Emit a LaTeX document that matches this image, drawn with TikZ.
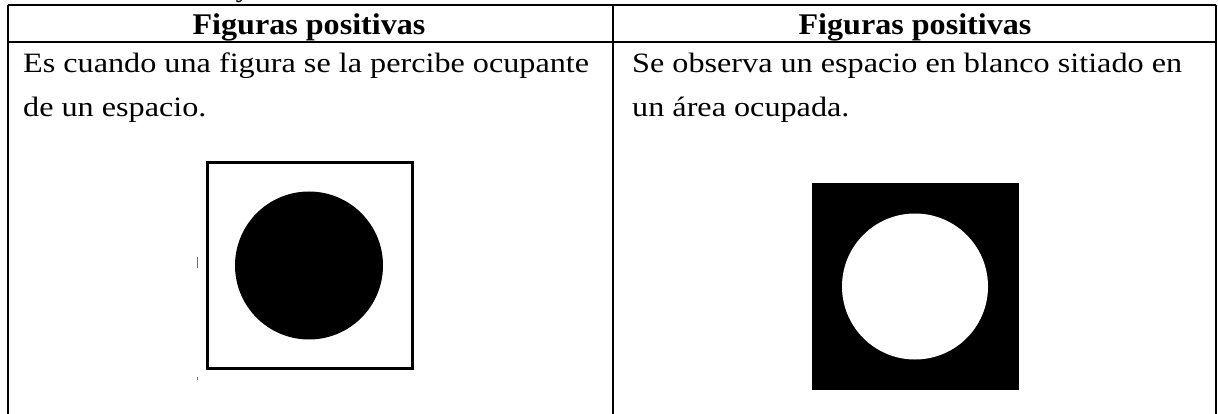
\documentclass[tikz,border=0pt]{standalone}
\usepackage{graphicx}
\usepackage{fontspec}
\setmainfont{Liberation Serif}
\newcommand{\wideH}[1]{\scalebox{1.07}[1]{#1}}
\newcommand{\wideB}[1]{\scalebox{1.15}[1]{#1}}
\begin{document}
\begin{tikzpicture}[x=1pt,y=-1pt,
  rule/.style={line width=2pt, black},
  hdr/.style={font=\fontsize{30}{30}\selectfont\bfseries, anchor=base, inner sep=0pt},
  body/.style={font=\fontsize{28}{28}\selectfont, anchor=base west, inner sep=0pt},
  frag/.style={font=\fontsize{29}{29}\selectfont, anchor=base, inner sep=0pt},
  speck/.style={fill=black!55}]
\useasboundingbox (0,0) rectangle (1218,414);
\clip (0,0) rectangle (1218,414);
% table corners
\coordinate (tl) at (8,5);
\coordinate (tr) at (1216,5);
\coordinate (tm) at (613,5);
\coordinate (bl) at (8,414);
\coordinate (br) at (1216,414);
\coordinate (bm) at (613,414);
\coordinate (hl) at (8,42);
\coordinate (hr) at (1216,42);
\draw[rule] (tl) -- (tr);
\draw[rule] (hl) -- (hr);
\draw[rule] (tl) -- (bl);
\draw[rule] (tm) -- (bm);
\draw[rule] (tr) -- (br);
% cut-off caption fragment
\node[frag] (cap) at (243,-3) {y};
% headers
\node[hdr] (h1) at (309,35) {\wideH{Figuras positivas}};
\node[hdr] (h2) at (915,35) {\wideH{Figuras positivas}};
% body text
\node[body] (l1) at (23,73) {\wideB{Es cuando una figura se la percibe ocupante}};
\node[body] (l2) at (23,117) {\wideB{de un espacio.}};
\node[body] (r1) at (632,73) {\wideB{Se observa un espacio en blanco sitiado en}};
\node[body] (r2) at (632,117) {\wideB{un área ocupada.}};
% left figure
\draw[line width=3pt] (207,163) rectangle (412,368);
\fill[black] (309,265.5) circle[radius=74];
\fill[speck] (196.5,257) rectangle (198,268);
\fill[speck] (196.5,377) rectangle (198,380);
% right figure
\fill[black] (812,183) rectangle (1019,390);
\fill[white] (915,286.5) circle[radius=73];
\end{tikzpicture}
\end{document}
